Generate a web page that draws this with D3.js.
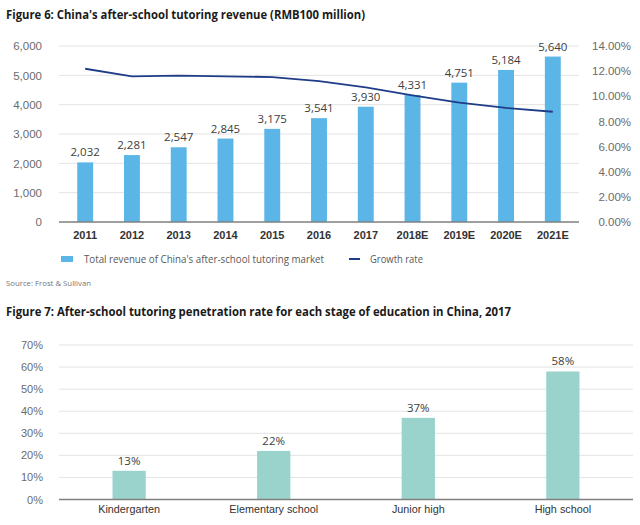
<!DOCTYPE html>
<html>
<head>
<meta charset="utf-8">
<script src="https://cdn.jsdelivr.net/npm/d3@7"></script>
<style>
  body { margin: 0; background: #fff; }
  svg { font-family: "Open Sans", sans-serif; }
  .grid line { stroke: #e3e3e3; }
  .axis path, .axis line { display: none; }
</style>
</head>
<body>
<div class="chart"></div>
<script>
// Figura 6: ingresos (RMB100 millones) y tasa de crecimiento
var years = ["2011", "2012", "2013", "2014", "2015", "2016", "2017", "2018E", "2019E", "2020E", "2021E"];
var revenue = [2032, 2281, 2547, 2845, 3175, 3541, 3930, 4331, 4751, 5184, 5640];
var growth = [0.1219, 0.1159, 0.1164, 0.1159, 0.1153, 0.112, 0.1071, 0.1008, 0.0949, 0.0907, 0.0877];
var revTicks = [0, 1000, 2000, 3000, 4000, 5000, 6000];
var rateTicks = [0, 0.02, 0.04, 0.06, 0.08, 0.10, 0.12, 0.14];

// Figura 7: penetración por etapa educativa
var stages = ["Kindergarten", "Elementary school", "Junior high", "High school"];
var penetration = [0.13, 0.22, 0.37, 0.58];
var penTicks = [0, 0.1, 0.2, 0.3, 0.4, 0.5, 0.6, 0.7];

var W = 640, H = 525;

var svg = d3.select(".chart")
    .append("svg")
    .attr("width", W)
    .attr("height", H);

// ---------- Figura 6 ----------
var top1 = {left: 59, right: 579, top: 46, bottom: 222};

svg.append("text")
    .attr("x", 6).attr("y", 19)
    .attr("font-size", 12).attr("font-weight", "bold")
    .attr("fill", "#1a1a1a")
    .attr("textLength", 359).attr("lengthAdjust", "spacingAndGlyphs")
    .text("Figure 6: China's after-school tutoring revenue (RMB100 million)");

var x1 = d3.scaleBand()
    .domain(years)
    .range([top1.left, top1.right])
    .paddingInner(0.66)
    .paddingOuter(0.39);

var y1 = d3.scaleLinear()
    .domain([0, 6000])
    .range([top1.bottom, top1.top]);

var y1r = d3.scaleLinear()
    .domain([0, 0.14])
    .range([top1.bottom, top1.top]);

svg.append("g")
    .attr("class", "grid")
    .selectAll("line")
    .data(revTicks.slice(1))
    .enter()
    .append("line")
    .attr("x1", top1.left).attr("x2", top1.right)
    .attr("y1", function(d){ return y1(d); })
    .attr("y2", function(d){ return y1(d); });

// eje izquierdo
svg.append("g")
    .attr("class", "axis")
    .attr("transform", "translate(" + top1.left + ",0)")
    .call(d3.axisLeft(y1).tickValues(revTicks).tickFormat(d3.format(",")).tickSize(0).tickPadding(17))
    .selectAll("text")
    .attr("font-size", 11.5).attr("fill", "#6b6b6b");

// eje derecho
svg.append("g")
    .attr("class", "axis")
    .attr("transform", "translate(631,0)")
    .call(d3.axisLeft(y1r).tickValues(rateTicks).tickFormat(d3.format(".2%")).tickSize(0).tickPadding(0))
    .selectAll("text")
    .attr("font-size", 11.5).attr("fill", "#6b6b6b");

svg.selectAll(".bar1")
    .data(revenue)
    .enter()
    .append("rect")
    .attr("class", "bar1")
    .attr("x", function(d, i){ return x1(years[i]); })
    .attr("y", function(d){ return y1(d); })
    .attr("width", x1.bandwidth())
    .attr("height", function(d){ return y1(0) - y1(d); })
    .attr("fill", "#5cb5e7");

svg.selectAll(".lab1")
    .data(revenue)
    .enter()
    .append("text")
    .attr("class", "lab1")
    .attr("x", function(d, i){ return x1(years[i]) + x1.bandwidth() / 2; })
    .attr("y", function(d){ return y1(d) - 6; })
    .attr("text-anchor", "middle")
    .attr("font-size", 11.5).attr("fill", "#404040")
    .text(d3.format(","));

// línea base
svg.append("line")
    .attr("x1", top1.left).attr("x2", top1.right)
    .attr("y1", y1(0)).attr("y2", y1(0))
    .attr("stroke", "#7f7f7f").attr("stroke-width", 1.5);

// eje x
svg.append("g")
    .attr("class", "axis")
    .attr("transform", "translate(0," + y1(0) + ")")
    .call(d3.axisBottom(x1).tickSize(0).tickPadding(9))
    .selectAll("text")
    .attr("font-size", 11).attr("font-weight", "bold").attr("fill", "#333");

var line = d3.line()
    .x(function(d, i){ return x1(years[i]) + x1.bandwidth() / 2; })
    .y(function(d){ return y1r(d); });

svg.append("path")
    .datum(growth)
    .attr("d", line)
    .attr("fill", "none")
    .attr("stroke", "#1f3c88")
    .attr("stroke-width", 1.8);

// leyenda
var leg = svg.append("g").attr("transform", "translate(0,259)");
leg.append("rect").attr("x", 61).attr("y", -3).attr("width", 12).attr("height", 6).attr("fill", "#5cb5e7");
leg.append("text").attr("x", 84).attr("y", 4).attr("font-size", 11).attr("fill", "#595959")
    .attr("textLength", 240).attr("lengthAdjust", "spacingAndGlyphs")
    .text("Total revenue of China's after-school tutoring market");
leg.append("line").attr("x1", 349).attr("x2", 360).attr("y1", 0).attr("y2", 0)
    .attr("stroke", "#1f3c88").attr("stroke-width", 2);
leg.append("text").attr("x", 370).attr("y", 4).attr("font-size", 11).attr("fill", "#595959")
    .attr("textLength", 53).attr("lengthAdjust", "spacingAndGlyphs")
    .text("Growth rate");

svg.append("text")
    .attr("x", 6).attr("y", 286)
    .attr("font-size", 8).attr("fill", "#777")
    .attr("textLength", 85).attr("lengthAdjust", "spacingAndGlyphs")
    .text("Source: Frost & Sullivan");

// ---------- Figura 7 ----------
var bot = {left: 59, right: 633, top: 345, bottom: 499.5};

svg.append("text")
    .attr("x", 6).attr("y", 316)
    .attr("font-size", 12).attr("font-weight", "bold")
    .attr("fill", "#1a1a1a")
    .attr("textLength", 505).attr("lengthAdjust", "spacingAndGlyphs")
    .text("Figure 7: After-school tutoring penetration rate for each stage of education in China, 2017");

var x2 = d3.scaleBand()
    .domain(stages)
    .range([bot.left, bot.right])
    .paddingInner(0.77)
    .paddingOuter(0.37);

var y2 = d3.scaleLinear()
    .domain([0, 0.7])
    .range([bot.bottom, bot.top]);

svg.append("g")
    .attr("class", "grid")
    .selectAll("line")
    .data(penTicks.slice(1))
    .enter()
    .append("line")
    .attr("x1", bot.left).attr("x2", bot.right)
    .attr("y1", function(d){ return y2(d); })
    .attr("y2", function(d){ return y2(d); });

svg.append("g")
    .attr("class", "axis")
    .attr("transform", "translate(" + bot.left + ",0)")
    .call(d3.axisLeft(y2).tickValues(penTicks).tickFormat(d3.format(".0%")).tickSize(0).tickPadding(16))
    .selectAll("text")
    .attr("font-size", 11).attr("fill", "#6b6b6b");

svg.selectAll(".bar2")
    .data(penetration)
    .enter()
    .append("rect")
    .attr("class", "bar2")
    .attr("x", function(d, i){ return x2(stages[i]); })
    .attr("y", function(d){ return y2(d); })
    .attr("width", x2.bandwidth())
    .attr("height", function(d){ return y2(0) - y2(d); })
    .attr("fill", "#9ad3cb");

svg.selectAll(".lab2")
    .data(penetration)
    .enter()
    .append("text")
    .attr("class", "lab2")
    .attr("x", function(d, i){ return x2(stages[i]) + x2.bandwidth() / 2; })
    .attr("y", function(d){ return y2(d) - 6; })
    .attr("text-anchor", "middle")
    .attr("font-size", 11.5).attr("fill", "#404040")
    .text(d3.format(".0%"));

svg.append("line")
    .attr("x1", bot.left).attr("x2", bot.right)
    .attr("y1", y2(0)).attr("y2", y2(0))
    .attr("stroke", "#7f7f7f").attr("stroke-width", 1.5);

svg.append("g")
    .attr("class", "axis")
    .attr("transform", "translate(0," + y2(0) + ")")
    .call(d3.axisBottom(x2).tickSize(0).tickPadding(6))
    .selectAll("text")
    .attr("font-size", 10.8).attr("fill", "#333");
</script>
</body>
</html>
